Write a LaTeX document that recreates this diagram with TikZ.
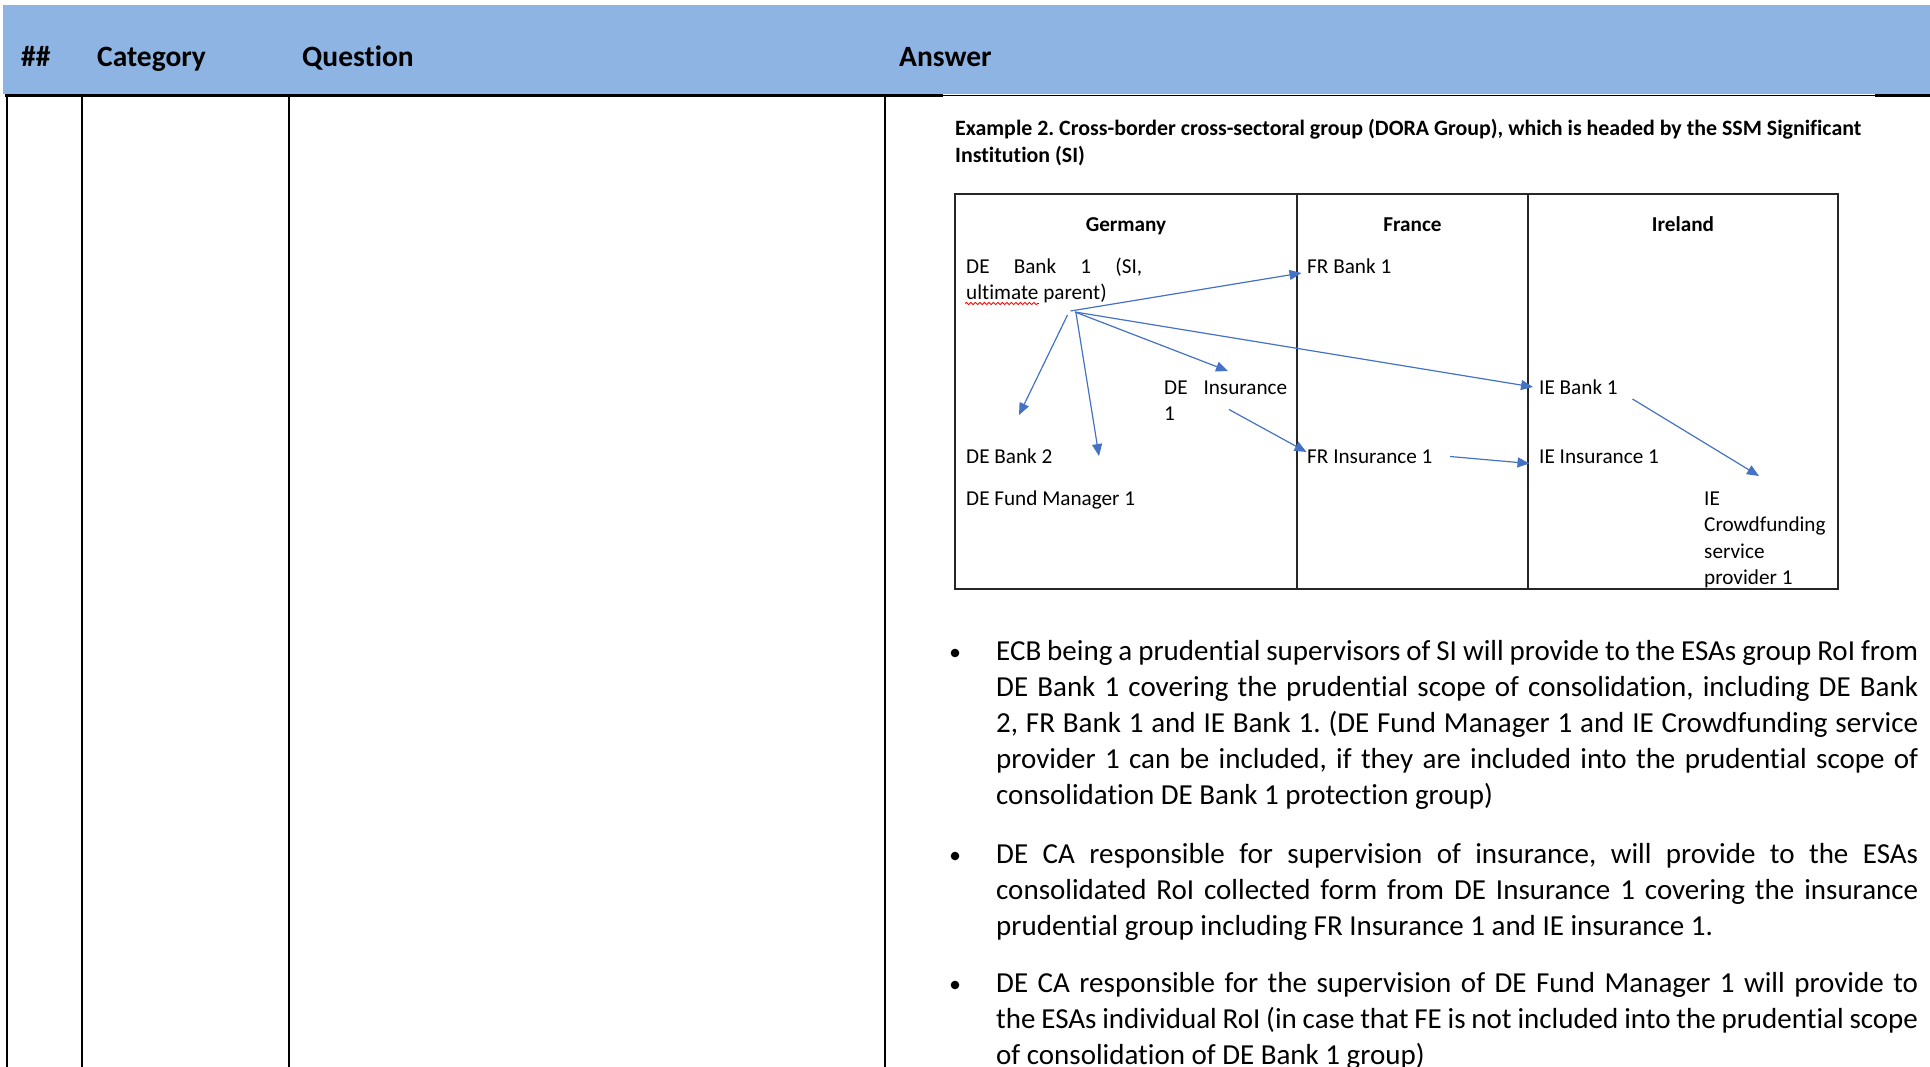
\documentclass[tikz,border=0pt]{standalone}
\usepackage{fontspec}
\setmainfont{Carlito}[Ligatures=NoCommon]
\frenchspacing
\usetikzlibrary{arrows.meta,decorations.pathmorphing}
\definecolor{hdrblue}{RGB}{142,180,227}
\definecolor{arrblue}{RGB}{68,114,196}
\newcommand{\btxtfont}{\fontsize{29}{36}\selectfont\frenchspacing\hyphenpenalty=10000 \exhyphenpenalty=10000 \tolerance=10000 \spaceskip=0.226em plus 1em minus 0.15em\relax}
\tikzset{
  hdr/.style={anchor=base west,inner sep=0pt,font=\fontsize{29.5}{35}\selectfont\bfseries},
  dtext/.style={anchor=base west,inner sep=0pt,font=\fontsize{21.2}{26.7}\selectfont},
  dhead/.style={anchor=base,inner sep=0pt,font=\fontsize{21.2}{26.7}\selectfont\bfseries},
  ttl/.style={anchor=base west,inner sep=0pt,font=\fontsize{21.9}{27}\selectfont\bfseries\frenchspacing},
  arr/.style={draw=arrblue,line width=1.2pt,-{Triangle[length=12pt,width=10pt]}},
  gridline/.style={line width=1.5pt},
  boxline/.style={line width=1.3pt,draw=black!85},
  btext/.style={anchor=north west,inner sep=0pt,text width=922pt,align=justify,font=\btxtfont},
  bdot/.style={circle,fill=black,inner sep=0pt,minimum size=8.6pt}
}
\begin{document}
\begin{tikzpicture}[x=1pt,y=-1pt]
\useasboundingbox (0,0) rectangle (1930,1067);
\fill[white] (0,0) rectangle (1930,1067);
% header band
\fill[hdrblue] (3,5) rectangle (1930,94);
\node[hdr] (hh) at (21,67) {\#\#};
\node[hdr] (hcat) at (97,67) {Category};
\node[hdr] (hq) at (302,67) {Question};
\node[hdr] (hans) at (899,67) {Answer};
% table rules
\draw[line width=2.5pt] (5,95.5) -- (943,95.5);
\draw[line width=1.3pt] (943,95.5) -- (1875,95.5);
\draw[line width=2.5pt] (1875,95.5) -- (1930,95.5);
\foreach \xx in {7,82,289,885} {\draw[gridline] (\xx,95) -- (\xx,1067);}
% title
\node[ttl] (t1) at (955,136) {Example 2. Cross-border cross-sectoral group (DORA Group), which is headed by the SSM Significant};
\node[ttl] (t2) at (955,163) {Institution (SI)};
% diagram box
\draw[boxline] (955,194) rectangle (1838,589);
\draw[boxline] (1297,194) -- (1297,589);
\draw[boxline] (1528,194) -- (1528,589);
\node[dhead] (ger) at (1126,231.5) {Germany};
\node[dhead] (fra) at (1412.5,231.5) {France};
\node[dhead] (ire) at (1683,231.5) {Ireland};
% entities
\node[dtext] (deb1) at (966,273.5) {\hbox to 176pt{DE\hfill Bank\hfill 1\hfill (SI,}};
\node[dtext] (deb1b) at (966,300) {ultimate parent)};
\draw[red,line width=0.8pt,decorate,decoration={snake,amplitude=1.1pt,segment length=4.5pt}] (965,303.5) -- (1039,303.5);
\node[dtext] (frb1) at (1307,273.5) {FR Bank 1};
\node[dtext] (dei1) at (1164,394) {\hbox to 123pt{DE\hfill Insurance}};
\node[dtext] (dei1b) at (1164,420.5) {1};
\node[dtext] (ieb1) at (1539,394) {IE Bank 1};
\node[dtext] (deb2) at (966,463) {DE Bank 2};
\node[dtext] (defm) at (966,505) {DE Fund Manager 1};
\node[dtext] (fri1) at (1307,463.3) {FR Insurance 1};
\node[dtext] (iei1) at (1539,463.3) {IE Insurance 1};
\node[dtext] (iecf1) at (1704,505) {IE};
\node[dtext] (iecf2) at (1704,531.5) {Crowdfunding};
\node[dtext] (iecf3) at (1704,558) {service};
\node[dtext] (iecf4) at (1704,584) {provider 1};
% arrow end points
\coordinate (hA) at (1070.5,311);
\coordinate (hB) at (1075,312);
\coordinate (hC) at (1067.5,315);
\coordinate (hD) at (1076,313);
\coordinate (tFRB) at (1301.5,273);
\coordinate (tIEB) at (1533,387);
\coordinate (tDEI) at (1228,371);
\coordinate (tDEB2) at (1019,415);
\coordinate (tDEFM) at (1099,456);
\coordinate (sDEI) at (1229,409.5);
\coordinate (tFRI) at (1306.5,452);
\coordinate (sFRI) at (1450,456.5);
\coordinate (tIEI) at (1529.5,463.5);
\coordinate (sIEB) at (1632.5,399);
\coordinate (tIECF) at (1759,476);
\draw[arr] (hA) -- (tFRB);
\draw[arr] (hB) -- (tIEB);
\draw[arr] (hB) -- (tDEI);
\draw[arr] (hC) -- (tDEB2);
\draw[arr] (hD) -- (tDEFM);
\draw[arr] (sDEI) -- (tFRI);
\draw[arr] (sFRI) -- (tIEI);
\draw[arr] (sIEB) -- (tIECF);
% bullets
\node[bdot] (d1) at (955,653) {};
\node[btext] (b1) at (996,635) {\strut ECB being a prudential supervisors of SI will provide to the ESAs group RoI from\linebreak DE Bank 1 covering the prudential scope of consolidation, including DE Bank\linebreak 2, FR Bank 1 and IE Bank 1. (DE Fund Manager 1 and IE Crowdfunding service\linebreak provider 1 can be included, if they are included into the prudential scope of\linebreak consolidation DE Bank 1 protection group)};
\node[bdot] (d2) at (955,856) {};
\node[btext] (b2) at (996,838) {\strut DE CA responsible for supervision of insurance, will provide to the ESAs\linebreak consolidated RoI collected form from DE Insurance 1 covering the insurance\linebreak prudential group including FR Insurance 1 and IE insurance 1.};
\node[bdot] (d3) at (955,985) {};
\node[btext] (b3) at (996,967) {\strut DE CA responsible for the supervision of DE Fund Manager 1 will provide to\linebreak the ESAs individual RoI (in case that FE is not included into the prudential scope\linebreak of consolidation of DE Bank 1 group)};
\end{tikzpicture}
\end{document}
